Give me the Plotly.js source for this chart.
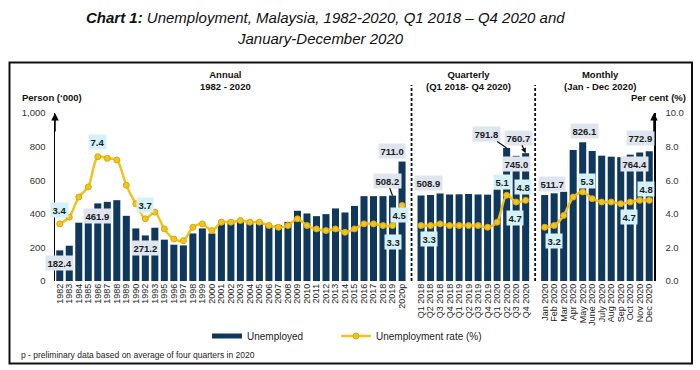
<!DOCTYPE html>
<html>
<head>
<meta charset="utf-8">
<script src="https://cdn.plot.ly/plotly-3.0.1.min.js"></script>
<style>html,body{margin:0;padding:0;background:#fff;}#chart{width:700px;height:370px;}</style>
</head>
<body>
<div id="chart"></div>
<script>
// ---------- DATA ----------
const annualYears = ['1982','1983','1984','1985','1986','1987','1988','1989','1990','1992','1993','1995','1996','1997','1998','1999','2000','2001','2002','2003','2004','2005','2006','2007','2008','2009','2010','2011','2012','2013','2014','2015','2016','2017','2018','2019','2020p'];
const annualUnemployed = [182.4,210,347,390,461.9,471,481,388,313,271.2,317,246,216,212,283,313,283,343,343,352,343,343,333,333,352,418,402,386,398,432,408,447,505,505,505,508.2,711.0];
const annualRate = [3.4,3.8,5.0,5.6,7.4,7.3,7.2,5.7,4.6,3.7,4.1,3.1,2.5,2.4,3.2,3.4,3.0,3.5,3.5,3.6,3.5,3.5,3.3,3.2,3.3,3.7,3.3,3.1,3.0,3.1,2.9,3.1,3.4,3.4,3.3,3.3,4.5];

const quarters = ['Q1 2018','Q2 2018','Q3 2018','Q4 2018','Q1 2019','Q2 2019','Q3 2019','Q4 2019','Q1 2020','Q2 2020','Q3 2020','Q4 2020'];
const quarterlyUnemployed = [508.9,512,521,515,516,518,515,514,545,791.8,745.0,760.7];
const quarterlyRate = [3.3,3.3,3.4,3.3,3.3,3.3,3.3,3.2,3.5,5.1,4.7,4.8];

const months = ['Jan 2020','Feb 2020','Mar 2020','Apr 2020','May 2020','June 2020','July 2020','Aug 2020','Sep 2020','Oct 2020','Nov 2020','Dec 2020'];
const monthlyUnemployed = [511.7,522,531,780,826.1,774,746,740,737,752,764.4,772.9];
const monthlyRate = [3.2,3.3,3.9,5.0,5.3,4.9,4.7,4.7,4.6,4.7,4.8,4.8];

const leftTicks = [0,200,400,600,800,1000];
const rightTicks = [0,2,4,6,8,10];

// ---------- BUILD COMBINED SERIES (one empty slot between sections) ----------
const sections = [
  {labels: annualYears, bars: annualUnemployed, rate: annualRate},
  {labels: quarters, bars: quarterlyUnemployed, rate: quarterlyRate},
  {labels: months, bars: monthlyUnemployed, rate: monthlyRate}
];
const xs = [], barY = [], rateY = [], tickVals = [], tickText = [];
const sectionStart = [], gapPos = [];
let pos = 0;
sections.forEach((s, si) => {
  if (si > 0) { gapPos.push(pos); xs.push(pos); barY.push(null); rateY.push(null); pos++; }
  sectionStart.push(pos);
  s.labels.forEach((lab, i) => {
    xs.push(pos); barY.push(s.bars[i]); rateY.push(s.rate[i]);
    tickVals.push(pos); tickText.push(lab); pos++;
  });
});
const lastPos = pos - 1;

// ---------- LABELS (section, index, which value, pixel offset, arrow) ----------
const labelSpecs = [
  [0,0,'bar',0,-12.3], [0,4,'bar',0,-12.3], [0,9,'bar',0,-12.3],
  [0,36,'bar',-10,11], [0,35,'bar',-5.5,15,'line'],
  [1,0,'bar',7.6,12.2], [1,9,'bar',-20.3,14,'line'], [1,11,'bar',-7,15.5,'head'], [1,10,'bar',0,-8],
  [2,0,'bar',7.4,10.7], [2,4,'bar',1.7,11], [2,10,'bar',-5.4,-11.7], [2,11,'bar',-9,13],
  [0,0,'rate',0,13.6], [0,4,'rate',0,15], [0,9,'rate',0,13.8], [0,36,'rate',-2.4,-9.6], [0,35,'rate',0,-16],
  [1,0,'rate',7.6,-13.4], [1,9,'rate',-4,13.6], [1,10,'rate',-1.5,-15.7], [1,11,'rate',-2.6,13.7],
  [2,0,'rate',9.7,-13.5], [2,4,'rate',4.4,11.3], [2,9,'rate',-1.6,-14.7], [2,11,'rate',-3.2,11]
];

const FONT = 'Arial, "Liberation Sans", sans-serif';
const annotations = [];
labelSpecs.forEach(([si, i, kind, dx, dy, arrow]) => {
  const s = sections[si];
  const xv = sectionStart[si] + i;
  const isBar = kind === 'bar';
  const val = isBar ? s.bars[i] : s.rate[i];
  const base = {
    x: xv, y: val, xref: 'x', yref: isBar ? 'y' : 'y2',
    text: '<b>' + val.toFixed(1) + '</b>',
    font: {family: FONT, size: 9.5, color: '#1a1a1a'},
    bgcolor: isBar ? '#dfe5ee' : '#d3f1f8',
    borderpad: 1.5
  };
  if (arrow) {
    Object.assign(base, {showarrow: true, ax: dx, ay: -dy, arrowcolor: '#111', arrowwidth: 1.3,
      arrowhead: arrow === 'head' ? 2 : 0, arrowsize: 0.8, standoff: 0});
  } else {
    Object.assign(base, {showarrow: false, xshift: dx, yshift: dy});
  }
  annotations.push(base);
});

// section headings
const pxToPaperX = X => (X - 55) / 599;
const pxToPaperY = Y => (281 - Y) / 168;
[['<b>Annual</b><br><b>1982 - 2020</b>', 225.5], ['<b>Quarterly</b><br><b>(Q1 2018- Q4 2020)</b>', 468.5], ['<b>Monthly</b><br><b>(Jan - Dec 2020)</b>', 600]]
  .forEach(([t, X]) => annotations.push({xref: 'paper', yref: 'paper', x: pxToPaperX(X), y: pxToPaperY(80.5),
    text: t, showarrow: false, font: {family: FONT, size: 9.5, color: '#111'}, xanchor: 'center', yanchor: 'middle'}));

// title lines
annotations.push({xref: 'paper', yref: 'paper', x: pxToPaperX(325), y: pxToPaperY(17), xanchor: 'center', yanchor: 'middle',
  text: '<b><i>Chart 1:</i></b><i> Unemployment, Malaysia, 1982-2020, Q1 2018 – Q4 2020 and</i>', showarrow: false,
  font: {family: FONT, size: 15, color: '#111'}});
annotations.push({xref: 'paper', yref: 'paper', x: pxToPaperX(320), y: pxToPaperY(38.5), xanchor: 'center', yanchor: 'middle',
  text: '<i>January-December 2020</i>', showarrow: false, font: {family: FONT, size: 15, color: '#111'}});

// axis titles
annotations.push({xref: 'paper', yref: 'paper', x: pxToPaperX(20), y: pxToPaperY(97.5), xanchor: 'left', yanchor: 'middle',
  text: '<b>Person (‘000)</b>', showarrow: false, font: {family: FONT, size: 9.5, color: '#111'}});
annotations.push({xref: 'paper', yref: 'paper', x: pxToPaperX(688), y: pxToPaperY(97.5), xanchor: 'right', yanchor: 'middle',
  text: '<b>Per cent (%)</b>', showarrow: false, font: {family: FONT, size: 9.5, color: '#111'}});
// axis arrowheads
[0, 1].forEach(px => annotations.push({xref: 'paper', yref: 'paper', x: px, y: 1, ax: 0, ay: 20, text: '',
  showarrow: true, arrowhead: 2, arrowsize: 1, arrowwidth: 1.5, arrowcolor: '#000'}));
// footnote
annotations.push({xref: 'paper', yref: 'paper', x: pxToPaperX(19), y: pxToPaperY(355), xanchor: 'left', yanchor: 'middle',
  text: 'p - preliminary data based on average of four quarters in 2020', showarrow: false,
  font: {family: FONT, size: 8.5, color: '#222'}});

// shapes: frame + section separators
const shapes = [
  {type: 'rect', xref: 'paper', yref: 'paper', x0: pxToPaperX(9.5), x1: pxToPaperX(692), y0: pxToPaperY(363.5), y1: pxToPaperY(62.5),
   line: {color: '#111', width: 2}, fillcolor: 'rgba(0,0,0,0)', layer: 'below'}
];
gapPos.forEach(g => shapes.push({type: 'line', xref: 'x', yref: 'paper', x0: g, x1: g, y0: 0, y1: pxToPaperY(85),
  line: {color: '#111', width: 1.8, dash: '3px,2px'}}));

const BAR_COLOR = '#10385c';
const traces = [
  {type: 'bar', name: 'Unemployed', x: xs, y: barY, marker: {color: BAR_COLOR}, yaxis: 'y', hoverinfo: 'y', showlegend: false},
  // legend proxy so the swatch is a wide flat bar as in the reference
  {type: 'scatter', mode: 'lines', name: 'Unemployed', x: [null], y: [null], yaxis: 'y',
   line: {color: BAR_COLOR, width: 5}, showlegend: true, hoverinfo: 'skip', legend: 'legend'},
  {type: 'scatter', mode: 'lines+markers', name: 'Unemployment rate (%)', x: xs, y: rateY, yaxis: 'y2',
   connectgaps: false, line: {color: '#f2c21f', width: 2.5, shape: 'spline', smoothing: 0.8},
   marker: {size: 6, color: '#f4c31c', line: {color: '#d9a90a', width: 1}}, legend: 'legend2'}
];

const legendBase = {orientation: 'h', xanchor: 'left', yanchor: 'middle', y: pxToPaperY(336),
  font: {family: FONT, size: 10, color: '#222'}, bgcolor: 'rgba(0,0,0,0)'};

const layout = {
  width: 700, height: 370,
  margin: {l: 55, r: 46, t: 113, b: 89, pad: 0},
  paper_bgcolor: '#fff', plot_bgcolor: '#fff',
  font: {family: FONT, color: '#222'},
  bargap: 0.26,
  showlegend: true,
  legend: Object.assign({}, legendBase, {x: pxToPaperX(207)}),
  legend2: Object.assign({}, legendBase, {x: pxToPaperX(336)}),
  xaxis: {range: [-0.5, lastPos + 0.5], tickmode: 'array', tickvals: tickVals, ticktext: tickText, tickangle: -90,
    tickfont: {family: FONT, size: 9, color: '#222'}, showgrid: false, zeroline: false, showline: false, ticks: '', fixedrange: true},
  yaxis: {range: [0, 1000], tickmode: 'array', tickvals: leftTicks, tickformat: ',d', showgrid: false, zeroline: false,
    showline: true, linecolor: '#000', linewidth: 1.5, ticks: '', ticklabelstandoff: 6,
    tickfont: {family: FONT, size: 9.5, color: '#333'}},
  yaxis2: {range: [0, 10], overlaying: 'y', side: 'right', tickmode: 'array', tickvals: rightTicks, tickformat: '.1f',
    showgrid: false, zeroline: false, showline: true, linecolor: '#000', linewidth: 1.5, ticks: '', ticklabelstandoff: 8,
    tickfont: {family: FONT, size: 9.5, color: '#333'}},
  annotations: annotations,
  shapes: shapes
};

Plotly.newPlot('chart', traces, layout, {displayModeBar: false, staticPlot: true});
</script>
</body>
</html>
